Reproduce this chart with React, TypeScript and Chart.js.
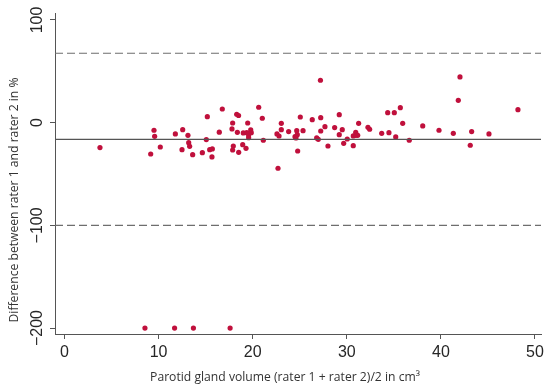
import React, { useEffect, useRef } from "react";
import { Chart, registerables } from "chart.js";

Chart.register(...registerables);

// Bland–Altman data: mean volume (x) vs difference in % (y)
const meanVolume: number[] = [
  3.77, 9.51, 9.58, 9.16, 10.18, 11.78, 12.56, 13.12, 13.2, 13.3,
  12.49, 13.62, 14.65, 15.43, 15.71, 15.67, 15.07, 15.18, 16.45, 16.77,
  18.3, 18.5, 17.87, 17.8, 18.37, 17.94, 17.87, 18.51, 18.94, 19.29,
  19.0, 19.36, 19.57, 19.79, 19.85, 19.57, 19.6, 19.47, 20.64, 21.02,
  21.13, 22.69, 22.58, 22.8, 23.04, 23.04, 23.82, 24.5, 24.68, 24.74,
  24.6, 24.78, 25.06, 25.35, 27.2, 26.33, 27.23, 27.23, 27.68, 26.8,
  26.97, 28.0, 28.71, 29.2, 29.2, 29.52, 29.67, 30.05, 30.69, 30.69,
  30.95, 30.95, 31.16, 31.26, 32.25, 32.43, 33.71, 34.35, 34.48, 35.05,
  35.2, 35.69, 35.94, 36.64, 38.07, 39.8, 41.32, 41.85, 42.03, 43.27,
  43.12, 45.11, 48.19, 8.55, 11.7, 13.7, 17.6,
];
const diffPercent: number[] = [
  -24.3, -7.4, -13.3, -30.5, -23.7, -11, -6.8, -12.3, -19.5, -23,
  -26.3, -31.2, -29.2, -26.3, -25.6, -33.4, -16.5, 5.8, -9.3, 13.3,
  8.2, 7.0, -0.3, -6.1, -9.4, -22.7, -26.6, -28.9, -21.4, -25,
  -10, -9.7, -12, -7.1, -9.7, -14.6, -10.4, -0.3, 15, 4.3,
  -17.1, -44.4, -11, -13, -0.6, -6.8, -8.7, -13.6, -7.8, -11.7,
  -14.9, -27.6, 5.5, -7.8, 41.3, 2.9, 4.9, -8.1, -3.9, -14.9,
  -16.2, -22.7, -4.8, 7.8, -11.7, -6.8, -20.1, -15.9, -22.4, -12.9,
  -9.4, -12.3, -12.3, -0.6, -4.5, -6.4, -10.4, 9.7, -9.7, 9.7,
  -13.9, 14.6, -0.6, -17.1, -3.2, -7.4, -10.4, 21.8, 44.5, -8.7,
  -22, -11, 12.7, -200, -200, -200, -200,
];

const meanDiff = -16.2;
const upperLoA = 67.6;
const lowerLoA = -100.0;

const xTicks: number[] = [0, 10, 20, 30, 40, 50];
const yTicks: number[] = [-200, -100, 0, 100];
const xMin = -1.01;
const xMax = 50.64;
const yMin = -205.8;
const yMax = 106.8;

const xTitle = "Parotid gland volume (rater 1 + rater 2)/2 in cm³";
const yTitle = "Difference between rater 1 and rater 2 in %";

const fmt = (v: number) => (v < 0 ? "\u2212" + Math.abs(v) : String(v));

const textPlugin = {
  id: "customText",
  afterDraw(chart: any) {
    const ctx = chart.ctx as CanvasRenderingContext2D;
    const xs = chart.scales.x;
    const ys = chart.scales.y;
    ctx.save();
    ctx.fillStyle = "#262626";
    ctx.font = '16px "Liberation Sans", Arial, sans-serif';
    ctx.textAlign = "center";
    ctx.textBaseline = "middle";
    for (const v of xTicks) {
      ctx.fillText(fmt(v), xs.getPixelForValue(v), 353);
    }
    for (const v of yTicks) {
      const py = ys.getPixelForValue(v);
      ctx.save();
      ctx.translate(38, py);
      ctx.rotate(-Math.PI / 2);
      ctx.fillText(fmt(v), 0, 0);
      ctx.restore();
    }
    // axis titles
    ctx.fillStyle = "#333333";
    const fam = '"Open Sans", "Noto Sans", sans-serif';
    ctx.font = `12px ${fam}`;
    const wx = ctx.measureText(xTitle).width;
    const sx = (12 * 270) / wx;
    ctx.font = `${sx.toFixed(2)}px ${fam}`;
    ctx.fillText(xTitle, 285, 378);
    ctx.font = `12px ${fam}`;
    const wy = ctx.measureText(yTitle).width;
    const sy = (12 * 245) / wy;
    ctx.font = `${sy.toFixed(2)}px ${fam}`;
    ctx.save();
    ctx.translate(15, 200);
    ctx.rotate(-Math.PI / 2);
    ctx.fillText(yTitle, 0, 0);
    ctx.restore();
    ctx.restore();
  },
};

export default function App() {
  const ref = useRef<HTMLCanvasElement | null>(null);
  useEffect(() => {
    document.body.style.margin = "0";
    if (!ref.current) return;
    const points = meanVolume.map((x, i) => ({ x, y: diffPercent[i] }));
    const hline = (y: number) => [
      { x: xMin, y },
      { x: xMax, y },
    ];
    const chart = new Chart(ref.current, {
      type: "scatter",
      data: {
        datasets: [
          {
            type: "line",
            data: hline(upperLoA),
            borderColor: "#6e6e6e",
            borderWidth: 1.2,
            borderDash: [8, 4],
            pointRadius: 0,
          } as any,
          {
            type: "line",
            data: hline(lowerLoA),
            borderColor: "#6e6e6e",
            borderWidth: 1.2,
            borderDash: [8, 4],
            pointRadius: 0,
          } as any,
          {
            type: "line",
            data: hline(meanDiff),
            borderColor: "#555555",
            borderWidth: 1.3,
            pointRadius: 0,
          } as any,
          {
            data: points,
            backgroundColor: "#c0103c",
            borderWidth: 0,
            pointRadius: 2.6,
          },
        ],
      },
      options: {
        animation: false,
        responsive: false,
        layout: { padding: { left: 50, right: 9, top: 13, bottom: 50 } },
        plugins: { legend: { display: false }, tooltip: { enabled: false } },
        scales: {
          x: {
            type: "linear",
            min: xMin,
            max: xMax,
            afterBuildTicks: (s: any) => {
              s.ticks = xTicks.map((v) => ({ value: v }));
            },
            ticks: { display: false },
            grid: {
              drawOnChartArea: false,
              drawTicks: true,
              tickLength: 5,
              color: "#555555",
            },
            border: { display: true, color: "#555555", width: 1 },
          },
          y: {
            type: "linear",
            min: yMin,
            max: yMax,
            afterBuildTicks: (s: any) => {
              s.ticks = yTicks.map((v) => ({ value: v }));
            },
            ticks: { display: false },
            grid: {
              drawOnChartArea: false,
              drawTicks: true,
              tickLength: 5,
              color: "#555555",
            },
            border: { display: true, color: "#555555", width: 1 },
          },
        },
      },
      plugins: [textPlugin],
    });
    return () => chart.destroy();
  }, []);
  return (
    <div style={{ width: 550, height: 389 }}>
      <canvas ref={ref} width={550} height={389} />
    </div>
  );
}
